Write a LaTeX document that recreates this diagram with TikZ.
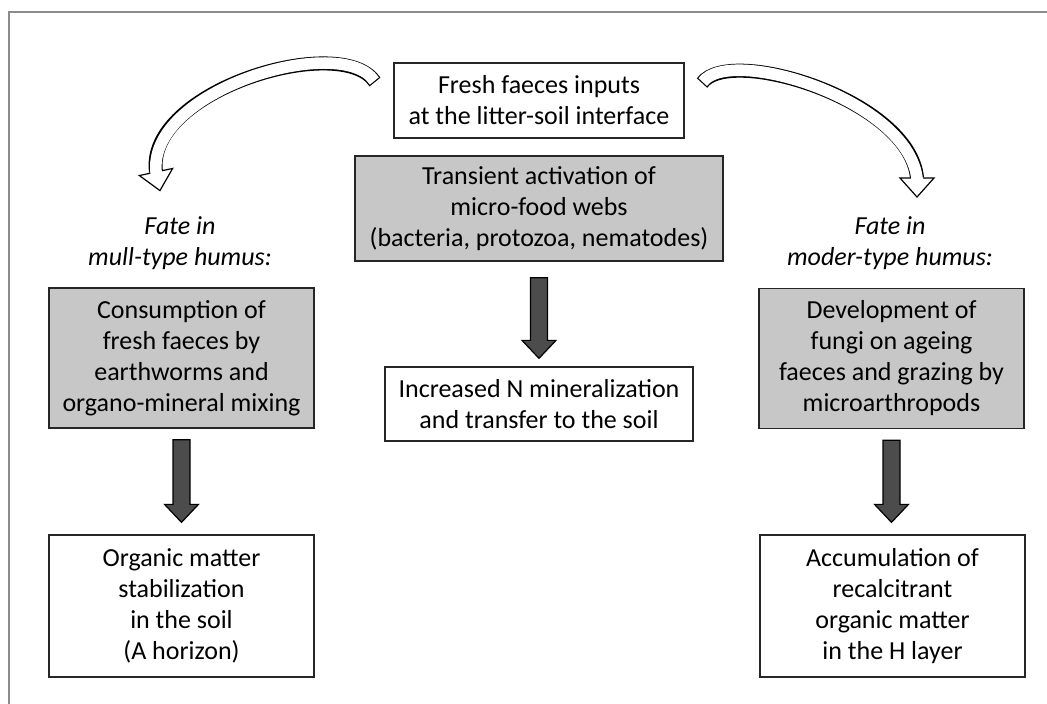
\documentclass[tikz,border=0pt]{standalone}
\usepackage{fontspec}
\setmainfont{Carlito}
\usetikzlibrary{calc}
\begin{document}
\begin{tikzpicture}[x=1pt,y=-1pt,
		box/.style={draw=black!85,line width=1.3pt,align=center,inner sep=0pt,font=\fontsize{26}{31}\selectfont},
		greybox/.style={box,fill=black!22},
		fate/.style={align=center,font=\fontsize{26}{31}\selectfont\itshape},
		fatarrow/.style={draw=black,line width=1.2pt,fill=black!70,to path={let \p1=(\tikztostart),\p2=(\tikztotarget) in (\x1-8.5pt,\y1) -- (\x1-8.5pt,\y2+18pt) -- (\x1-17pt,\y2+18pt) -- (\x1,\y2) -- (\x1+17pt,\y2+18pt) -- (\x1+8.5pt,\y2+18pt) -- (\x1+8.5pt,\y1) -- cycle}},
		hollow/.style={line width=14pt,draw=black},
		hollowin/.style={line width=11.6pt,draw=white,shorten <=1.2pt,shorten >=-2pt},
		hollowhead/.pic={\draw[fill=white,line width=1.2pt] (-17,0) -- (17,0) -- (0,19) -- cycle;}]
		\useasboundingbox (0,0) rectangle (1047,704);
		\clip (0,0) rectangle (1047,704);
		\draw[black!45,line width=2pt] (1060,12) -- (9,12) -- (9,720);
		\node[box,minimum width=290pt,minimum height=75pt] (fresh) at (539,100.5) {Fresh faeces inputs\\at the litter-soil interface};
		\node[greybox,minimum width=368pt,minimum height=105pt] (activ) at (539,208.5) {Transient activation of\\micro-food webs\\(bacteria, protozoa, nematodes)};
		\node[box,minimum width=308pt,minimum height=74pt] (minzn) at (539,404) {Increased N mineralization\\and transfer to the soil};
		\node[fate] (fateL) at (180,243) {Fate in\\mull-type humus:};
		\node[fate] (fateR) at (890,243) {Fate in\\moder-type humus:};
		\node[greybox,minimum width=265pt,minimum height=140pt] (consum) at (181.5,358) {Consumption of\\fresh faeces by\\earthworms and\\organo-mineral mixing};
		\node[greybox,minimum width=265pt,minimum height=140pt] (devel) at (891.5,358.5) {Development of\\fungi on ageing\\faeces and grazing by\\microarthropods};
		\node[box,minimum width=265pt,minimum height=142pt] (stabil) at (181.5,606) {Organic matter\\stabilization\\in the soil\\(A horizon)};
		\node[box,minimum width=265pt,minimum height=142pt] (accum) at (892.5,606) {Accumulation of\\recalcitrant\\organic matter\\in the H layer};
		\draw[fatarrow] ([yshift=-16pt]activ.south) to ([yshift=8pt]minzn.north);
		\draw[fatarrow] ([yshift=-11pt]consum.south) to ([yshift=12pt]stabil.north);
		\draw[fatarrow] ([yshift=-11pt]devel.south) to ([yshift=12pt]accum.north);
		\coordinate (ltail) at (375,82);
		\coordinate (lhead) at (156,172);
		\coordinate (rtail) at (702,83);
		\coordinate (rhead) at (917,178);
		\draw[hollow] (ltail) .. controls (342,32) and (145,90) .. (lhead);
		\pic[rotate=12] at (lhead) {hollowhead};
		\draw[hollowin] (ltail) .. controls (342,32) and (145,90) .. (lhead);
		\draw[hollow] (rtail) .. controls (730,45) and (910,100) .. (rhead);
		\pic[rotate=0] at (rhead) {hollowhead};
		\draw[hollowin] (rtail) .. controls (730,45) and (910,100) .. (rhead);
\end{tikzpicture}
\end{document}
